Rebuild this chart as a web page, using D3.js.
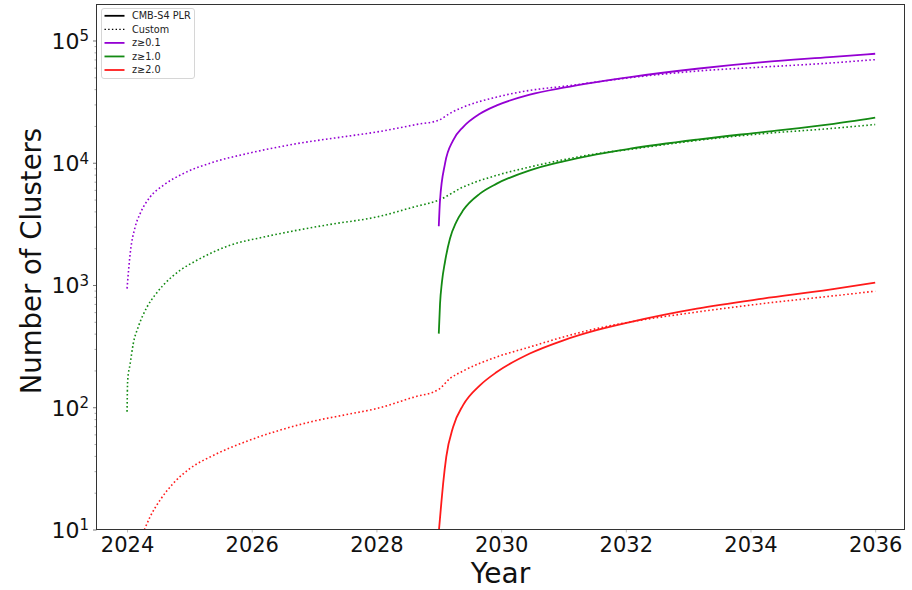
<!DOCTYPE html>
<html>
<head>
<meta charset="utf-8">
<script src="https://cdn.jsdelivr.net/npm/d3@7"></script>
<style>
  html, body { margin: 0; padding: 0; background: #fff; }
  svg { display: block; font-family: "DejaVu Sans", sans-serif; }
</style>
</head>
<body>
<svg id="chart" width="912" height="590"></svg>
<script>
// Cumulative number of detected clusters per redshift threshold.
// "Custom" schedule (dotted) starts in 2024, CMB-S4 PLR (solid) in 2029.

const customYearsZ01 = [2024.0, 2024.05, 2024.13, 2024.21, 2024.37, 2024.58, 2024.9, 2025.39, 2025.92, 2026.72, 2027.52, 2028.0, 2028.65, 2029.0, 2029.18, 2029.39, 2029.93, 2030.46, 2031.0, 2032.07, 2033.14, 2034.2, 2035.27, 2036.0];
const customValuesZ01 = [935, 1806, 2980, 3837, 5250, 6530, 8150, 10140, 11860, 14320, 16440, 17830, 20600, 22300, 25400, 28500, 34440, 39080, 42170, 49660, 56230, 60660, 65370, 69800];

const plrYearsZ01 = [2029.0, 2029.02, 2029.1, 2029.23, 2029.39, 2029.66, 2029.93, 2030.46, 2031.0, 2031.53, 2032.07, 2033.14, 2034.2, 2035.27, 2036.0];
const plrValuesZ01 = [3020, 4930, 9840, 15250, 19590, 25180, 29440, 36060, 41110, 45700, 50230, 58750, 66530, 73110, 77940];

const customYearsZ10 = [2024.0, 2024.01, 2024.05, 2024.1, 2024.18, 2024.32, 2024.45, 2024.58, 2024.85, 2025.12, 2025.65, 2026.19, 2026.72, 2027.26, 2028.0, 2028.6, 2029.0, 2029.39, 2029.93, 2030.46, 2031.0, 2031.53, 2032.07, 2033.14, 2034.2, 2035.27, 2036.0];
const customValuesZ10 = [92, 166, 227, 332, 454, 660, 830, 995, 1318, 1592, 2112, 2467, 2800, 3133, 3597, 4345, 4950, 6325, 7890, 9230, 10590, 11860, 12880, 15240, 17300, 19020, 20550];

const plrYearsZ10 = [2029.0, 2029.02, 2029.05, 2029.1, 2029.18, 2029.28, 2029.39, 2029.66, 2029.93, 2030.46, 2031.0, 2031.53, 2032.07, 2033.14, 2034.2, 2035.27, 2036.0];
const plrValuesZ10 = [400, 700, 1050, 1550, 2400, 3270, 4080, 5590, 6745, 8670, 10260, 11720, 13030, 15450, 17830, 20600, 23390];

const customYearsZ20 = [2024.0, 2024.1, 2024.2, 2024.37, 2024.53, 2024.74, 2025.01, 2025.39, 2025.92, 2026.45, 2026.99, 2027.52, 2028.0, 2028.6, 2029.0, 2029.18, 2029.39, 2029.93, 2030.46, 2031.0, 2031.53, 2032.07, 2033.14, 2034.2, 2035.27, 2036.0];
const customValuesZ20 = [1.7, 5.5, 7.8, 12.7, 17.4, 23.8, 31.6, 40.5, 52.7, 64.9, 76.9, 87.1, 97.5, 121, 140, 172, 198, 258, 311, 376, 440, 498, 601, 705, 809, 890];

const plrYearsZ20 = [2029.0, 2029.04, 2029.07, 2029.12, 2029.23, 2029.39, 2029.66, 2029.93, 2030.46, 2031.0, 2031.53, 2032.07, 2033.14, 2034.2, 2035.27, 2036.0];
const plrValuesZ20 = [9.5, 16.3, 23.8, 39.3, 69, 104, 151, 194, 275, 353, 427, 498, 641, 774, 916, 1047];

const xTickYears = [2024, 2026, 2028, 2030, 2032, 2034, 2036];
const yDecades = [10, 100, 1000, 10000, 100000];

const legendLabels = ["CMB-S4 PLR", "Custom", "z\u22650.1", "z\u22651.0", "z\u22652.0"];

// ---- layout ----
const W = 912, H = 590;
const plot = { left: 96.5, right: 904.5, top: 4.5, bottom: 529.5 };

const COLORS = { z01: "#9400d3", z10: "#138a13", z20: "#ff1a1a" };

const svg = d3.select("#chart");

const x = d3.scaleLinear().domain([2023.51, 2036.47]).range([plot.left, plot.right]);
const y = d3.scaleLog().domain([10, 197000]).range([plot.bottom, plot.top]);

svg.append("defs").append("clipPath").attr("id", "plot-clip")
  .append("rect")
  .attr("x", plot.left).attr("y", plot.top)
  .attr("width", plot.right - plot.left).attr("height", plot.bottom - plot.top);

// ---- series ----
const zip = (ys, vs) => ys.map((t, i) => [t, vs[i]]);
const series = [
  { data: zip(customYearsZ01, customValuesZ01), color: COLORS.z01, dotted: true },
  { data: zip(customYearsZ10, customValuesZ10), color: COLORS.z10, dotted: true },
  { data: zip(customYearsZ20, customValuesZ20), color: COLORS.z20, dotted: true },
  { data: zip(plrYearsZ01, plrValuesZ01), color: COLORS.z01, dotted: false },
  { data: zip(plrYearsZ10, plrValuesZ10), color: COLORS.z10, dotted: false },
  { data: zip(plrYearsZ20, plrValuesZ20), color: COLORS.z20, dotted: false }
];

const line = d3.line()
  .x(d => x(d[0]))
  .y(d => y(d[1]))
  .curve(d3.curveMonotoneX);

const lines = svg.append("g").attr("clip-path", "url(#plot-clip)");
series.forEach(s => {
  lines.append("path")
    .attr("d", line(s.data))
    .attr("fill", "none")
    .attr("stroke", s.color)
    .attr("stroke-width", s.dotted ? 1.6 : 1.8)
    .attr("stroke-dasharray", s.dotted ? "1.6 2.4" : null)
    .attr("stroke-linejoin", "round");
});

// ---- axes ----
const xAxis = d3.axisBottom(x)
  .tickValues(xTickYears)
  .tickFormat(d3.format("d"))
  .tickSize(3)
  .tickPadding(5);

const gx = svg.append("g")
  .attr("transform", `translate(0,${plot.bottom})`)
  .call(xAxis);
gx.select(".domain").remove();
gx.selectAll(".tick line").attr("stroke", "#bbb");
gx.selectAll(".tick text")
  .attr("fill", "#111")
  .style("font-size", "21px")
  .style("font-family", "'DejaVu Sans', sans-serif");

const minorTicks = [];
for (let d = 10; d < 1e6; d *= 10) {
  for (let k = 2; k <= 9; k++) {
    const v = k * d;
    if (v > y.domain()[0] && v < y.domain()[1]) minorTicks.push(v);
  }
}

const gyMinor = svg.append("g")
  .attr("transform", `translate(${plot.left},0)`)
  .call(d3.axisLeft(y).tickValues(minorTicks).tickFormat("").tickSize(2));
gyMinor.select(".domain").remove();
gyMinor.selectAll(".tick line").attr("stroke", "#aaa");

const gy = svg.append("g")
  .attr("transform", `translate(${plot.left},0)`)
  .call(d3.axisLeft(y).tickValues(yDecades).tickFormat(() => "10").tickSize(3.5).tickPadding(4));
gy.select(".domain").remove();
gy.selectAll(".tick line").attr("stroke", "#777");
gy.selectAll(".tick text")
  .attr("fill", "#111")
  .attr("dy", "0.36em")
  .style("font-size", "22px")
  .style("font-family", "'DejaVu Sans', sans-serif")
  .each(function (d) {
    d3.select(this).append("tspan")
      .attr("dy", "-0.5em")
      .style("font-size", "15px")
      .text(Math.round(Math.log10(d)));
  });

// frame
svg.append("rect")
  .attr("x", plot.left).attr("y", plot.top)
  .attr("width", plot.right - plot.left).attr("height", plot.bottom - plot.top)
  .attr("fill", "none")
  .attr("stroke", "#333")
  .attr("stroke-width", 1);

// axis titles
svg.append("text")
  .attr("x", (plot.left + plot.right) / 2)
  .attr("y", 583)
  .attr("text-anchor", "middle")
  .attr("fill", "#111")
  .style("font-size", "28px")
  .text("Year");

svg.append("text")
  .attr("transform", "translate(41,261) rotate(-90)")
  .attr("text-anchor", "middle")
  .attr("fill", "#111")
  .style("font-size", "27.5px")
  .text("Number of Clusters");

// ---- legend ----
const legendItems = [
  { label: legendLabels[0], color: "#000", dotted: false },
  { label: legendLabels[1], color: "#000", dotted: true },
  { label: legendLabels[2], color: COLORS.z01, dotted: false },
  { label: legendLabels[3], color: COLORS.z10, dotted: false },
  { label: legendLabels[4], color: COLORS.z20, dotted: false }
];

const legend = svg.append("g").attr("transform", "translate(101.5,8.5)");
legend.append("rect")
  .attr("width", 93).attr("height", 70)
  .attr("rx", 2.5).attr("ry", 2.5)
  .attr("fill", "#fff").attr("fill-opacity", 0.8)
  .attr("stroke", "#d6d6d6").attr("stroke-width", 1);

const rowY = d3.scalePoint().domain(d3.range(legendItems.length)).range([7.3, 61.5]);
legendItems.forEach((item, i) => {
  const yy = rowY(i);
  legend.append("line")
    .attr("x1", 3).attr("x2", 23).attr("y1", yy).attr("y2", yy)
    .attr("stroke", item.color)
    .attr("stroke-width", item.dotted ? 1.4 : 1.8)
    .attr("stroke-dasharray", item.dotted ? "1.4 2.3" : null);
  legend.append("text")
    .attr("x", 30.5).attr("y", yy)
    .attr("dy", "0.35em")
    .attr("fill", "#222")
    .style("font-size", "9.7px")
    .text(item.label);
});
</script>
</body>
</html>
